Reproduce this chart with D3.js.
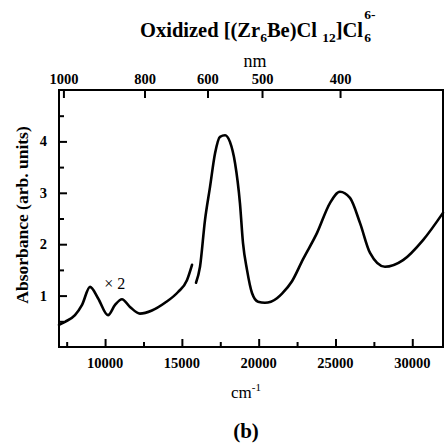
<!DOCTYPE html>
<html>
<head>
<meta charset="utf-8">
<script src="https://cdn.jsdelivr.net/npm/d3@7"></script>
<style>
  body { margin: 0; background: #fff; }
  svg text { font-family: "Liberation Serif", "Times New Roman", serif; fill: #000; }
</style>
</head>
<body>
<div id="root"></div>
<script>
// wavenumber (cm-1) and absorbance, low-energy part (drawn x2)
const lowWave = [7000, 7390, 8040, 8500, 9020, 9540, 10190, 10650, 11100, 11620, 12270, 13050, 13900, 14750, 15330, 15660];
const lowAbs  = [0.43, 0.49, 0.62, 0.82, 1.17, 0.95, 0.62, 0.82, 0.93, 0.78, 0.65, 0.71, 0.86, 1.07, 1.30, 1.60];
// high-energy part
const highWave = [15920, 16180, 16505, 16830, 17160, 17480, 17810, 18130, 18460, 18780, 18980, 19240, 19565, 19960, 20410, 21190, 21520, 22170, 22890, 23800, 24640, 25290, 25945, 26600, 27250, 28220, 29400, 30700, 32000];
const highAbs  = [1.25, 1.56, 2.47, 3.11, 3.77, 4.09, 4.12, 3.99, 3.58, 2.80, 2.02, 1.50, 1.05, 0.88, 0.86, 0.95, 1.04, 1.28, 1.71, 2.22, 2.80, 3.02, 2.90, 2.41, 1.83, 1.56, 1.69, 2.08, 2.61];

const xMajor = [10000, 15000, 20000, 25000, 30000];
const xMinor = [7500, 12500, 17500, 22500, 27500];
const yMajor = [1, 2, 3, 4];
const yMinor = [0.5, 1.5, 2.5, 3.5, 4.5];
const nmLabels = ["1000", "800", "600", "500", "400"];
const nmTickAt = [7320, 12600, 16700, 20250, 25330]; // cm-1 positions as printed

const serif = '"Liberation Serif", "Times New Roman", serif';
const W = 446, H = 444;
const m = {left: 59, top: 90, right: 443, bottom: 347};

const svg = d3.select('#root').append('svg')
  .attr('width', W).attr('height', H);

const x = d3.scaleLinear().domain([7000, 32000]).range([m.left, m.right]);
const y = d3.scaleLinear().domain([0, 5]).range([m.bottom, m.top]);

// frame
svg.append('rect')
  .attr('x', m.left).attr('y', m.top)
  .attr('width', m.right - m.left).attr('height', m.bottom - m.top)
  .attr('fill', 'none').attr('stroke', '#000').attr('stroke-width', 2);

// bottom axis (ticks inward)
const gx = svg.append('g').attr('transform', `translate(0,${m.bottom})`);
gx.call(d3.axisTop(x).tickValues(xMajor).tickSize(8).tickFormat(''));
gx.append('g').call(d3.axisTop(x).tickValues(xMinor).tickSize(5).tickFormat(''));
gx.selectAll('.domain').remove();
gx.selectAll('line').attr('stroke-width', 2);
gx.selectAll('.lbl').data(xMajor).enter().append('text')
  .attr('x', d => x(d)).attr('y', 21)
  .attr('font-family', serif)
  .attr('text-anchor', 'middle').attr('font-weight', 'bold').attr('font-size', 14.5)
  .text(d => d);

// left axis (ticks inward)
const gy = svg.append('g').attr('transform', `translate(${m.left},0)`);
gy.call(d3.axisRight(y).tickValues(yMajor).tickSize(8).tickFormat(''));
gy.append('g').call(d3.axisRight(y).tickValues(yMinor).tickSize(5).tickFormat(''));
gy.selectAll('.domain').remove();
gy.selectAll('line').attr('stroke-width', 2);
gy.selectAll('.lbl').data(yMajor).enter().append('text')
  .attr('x', -12).attr('y', d => y(d) + 5)
  .attr('font-family', serif)
  .attr('text-anchor', 'end').attr('font-weight', 'bold').attr('font-size', 14.5)
  .text(d => d);

// top nm axis
const gt = svg.append('g').attr('transform', `translate(0,${m.top})`);
gt.selectAll('line').data(nmTickAt).enter().append('line')
  .attr('x1', d => x(d)).attr('x2', d => x(d))
  .attr('y1', 0).attr('y2', 8)
  .attr('stroke', '#000').attr('stroke-width', 2);
gt.selectAll('text').data(nmLabels).enter().append('text')
  .attr('x', (d, i) => x(nmTickAt[i])).attr('y', -6)
  .attr('font-family', serif)
  .attr('text-anchor', 'middle').attr('font-weight', 'bold').attr('font-size', 14.5)
  .text(d => d);

// curve
const line = d3.line()
  .x(d => x(d[0])).y(d => y(d[1]))
  .curve(d3.curveMonotoneX);
[[lowWave, lowAbs], [highWave, highAbs]].forEach(([wv, ab]) => {
  svg.append('path')
    .datum(wv.map((w, i) => [w, ab[i]]))
    .attr('d', line)
    .attr('fill', 'none').attr('stroke', '#000')
    .attr('stroke-width', 2.6).attr('stroke-linejoin', 'round').attr('stroke-linecap', 'round');
});

// x2 annotation
svg.append('text')
  .attr('x', x(9950)).attr('y', y(1.12))
  .attr('font-family', 'Liberation Sans, Arial, sans-serif')
  .attr('font-size', 16)
  .text('\u00d7 2');

// title
const title = svg.append('text')
  .attr('x', 140).attr('y', 37)
  .attr('font-family', serif)
  .attr('font-weight', 'bold').attr('font-size', 20.5);
title.append('tspan').text('Oxidized [(Zr');
title.append('tspan').attr('font-size', 13.5).attr('dy', 5).text('6');
title.append('tspan').attr('dy', -5).text('Be)Cl ');
title.append('tspan').attr('font-size', 13.5).attr('dy', 5).text('12');
title.append('tspan').attr('dy', -5).text(']Cl');
const tb = title.node().getBBox();
svg.append('text').attr('x', tb.x + tb.width + 1).attr('y', 42)
  .attr('font-family', serif)
  .attr('font-weight', 'bold').attr('font-size', 13.5).text('6');
svg.append('text').attr('x', tb.x + tb.width + 1).attr('y', 19)
  .attr('font-family', serif)
  .attr('font-weight', 'bold').attr('font-size', 13.5).text('6-');

// axis titles
svg.append('text')
  .attr('x', 255).attr('y', 67)
  .attr('font-family', serif)
  .attr('text-anchor', 'middle').attr('font-size', 18)
  .text('nm');

const cm = svg.append('text')
  .attr('x', 246).attr('y', 398)
  .attr('font-family', serif)
  .attr('text-anchor', 'middle').attr('font-size', 17);
cm.append('tspan').text('cm');
cm.append('tspan').attr('font-size', 11).attr('dy', -7).text('-1');

svg.append('text')
  .attr('transform', 'translate(28,215) rotate(-90)')
  .attr('font-family', serif)
  .attr('text-anchor', 'middle').attr('font-weight', 'bold').attr('font-size', 17.5)
  .text('Absorbance (arb. units)');

svg.append('text')
  .attr('x', 246).attr('y', 438)
  .attr('font-family', serif)
  .attr('text-anchor', 'middle').attr('font-weight', 'bold').attr('font-size', 21)
  .text('(b)');
</script>
</body>
</html>
